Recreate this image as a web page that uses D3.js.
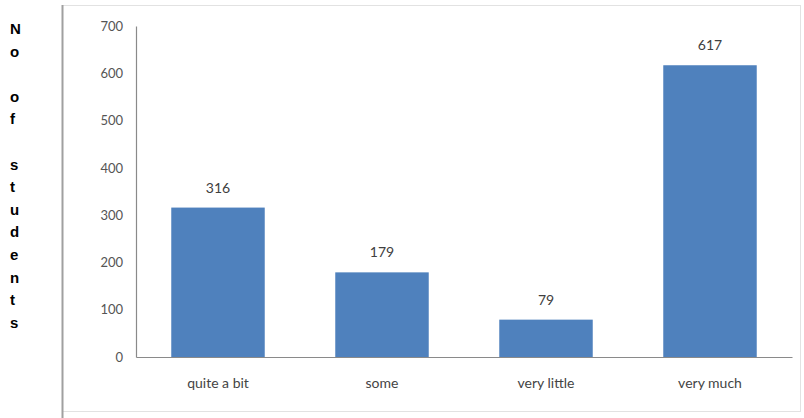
<!DOCTYPE html>
<html><head><meta charset="utf-8">
<script src="https://cdn.jsdelivr.net/npm/d3@7"></script>
<style>body{margin:0;background:#fff}svg{display:block}</style>
</head><body>
<svg id="c" width="804" height="418"></svg>
<script>
const categories = ["quite a bit", "some", "very little", "very much"];
const values = [316, 179, 79, 617];
const yTicks = [0, 100, 200, 300, 400, 500, 600, 700];
const titleChars = ["N","o","","o","f","","s","t","u","d","e","n","t","s"];

const svg = d3.select("#c");
// frame
svg.append("rect").attr("x",62.5).attr("y",5.5).attr("width",738).attr("height",406)
  .attr("fill","#fff").attr("stroke","#e2e2e2");
svg.append("line").attr("x1",62.5).attr("x2",62.5).attr("y1",5).attr("y2",418)
  .attr("stroke","#a0a0a0").attr("stroke-width",2);

const x = d3.scaleBand().domain(categories).range([136, 792]).paddingInner(0.43).paddingOuter(0.215);
const y = d3.scaleLinear().domain([0, 700]).range([357, 26]);

// y axis
const ya = svg.append("g").attr("transform","translate(136,0)")
  .call(d3.axisLeft(y).tickValues(yTicks).tickSize(0).tickPadding(13));
ya.select(".domain").attr("stroke","#8a8a8a").attr("stroke-width",1.2);
ya.selectAll("text").attr("font-family","Lato, 'Open Sans', sans-serif").attr("font-size",13).attr("fill","#555");

// bars
svg.selectAll("rect.bar").data(values).join("rect").attr("class","bar")
  .attr("x",(d,i)=>x(categories[i])).attr("width",x.bandwidth())
  .attr("y",d=>y(d)).attr("height",d=>y(0)-y(d)).attr("fill","#4F81BD");

// x axis
const xa = svg.append("g").attr("transform","translate(0,357)")
  .call(d3.axisBottom(x).tickSize(0).tickPadding(21));
xa.select(".domain").attr("stroke","#8a8a8a").attr("stroke-width",1.2);
xa.selectAll("text").attr("font-family","Lato, 'Open Sans', sans-serif").attr("font-size",14).attr("fill","#444");

// value labels
svg.selectAll("text.val").data(values).join("text").attr("class","val")
  .attr("x",(d,i)=>x(categories[i])+x.bandwidth()/2).attr("y",d=>y(d)-15)
  .attr("text-anchor","middle").attr("font-family","Lato, 'Open Sans', sans-serif")
  .attr("font-size",14).attr("fill","#404040").text(d=>d);

// vertical title
svg.append("g").selectAll("text").data(titleChars).join("text")
  .attr("x",10).attr("y",(d,i)=>34+i*22.6)
  .attr("font-family","Arial, 'Liberation Sans', sans-serif").attr("font-weight","bold")
  .attr("font-size",15).attr("fill","#000").text(d=>d);
</script>
</body></html>
